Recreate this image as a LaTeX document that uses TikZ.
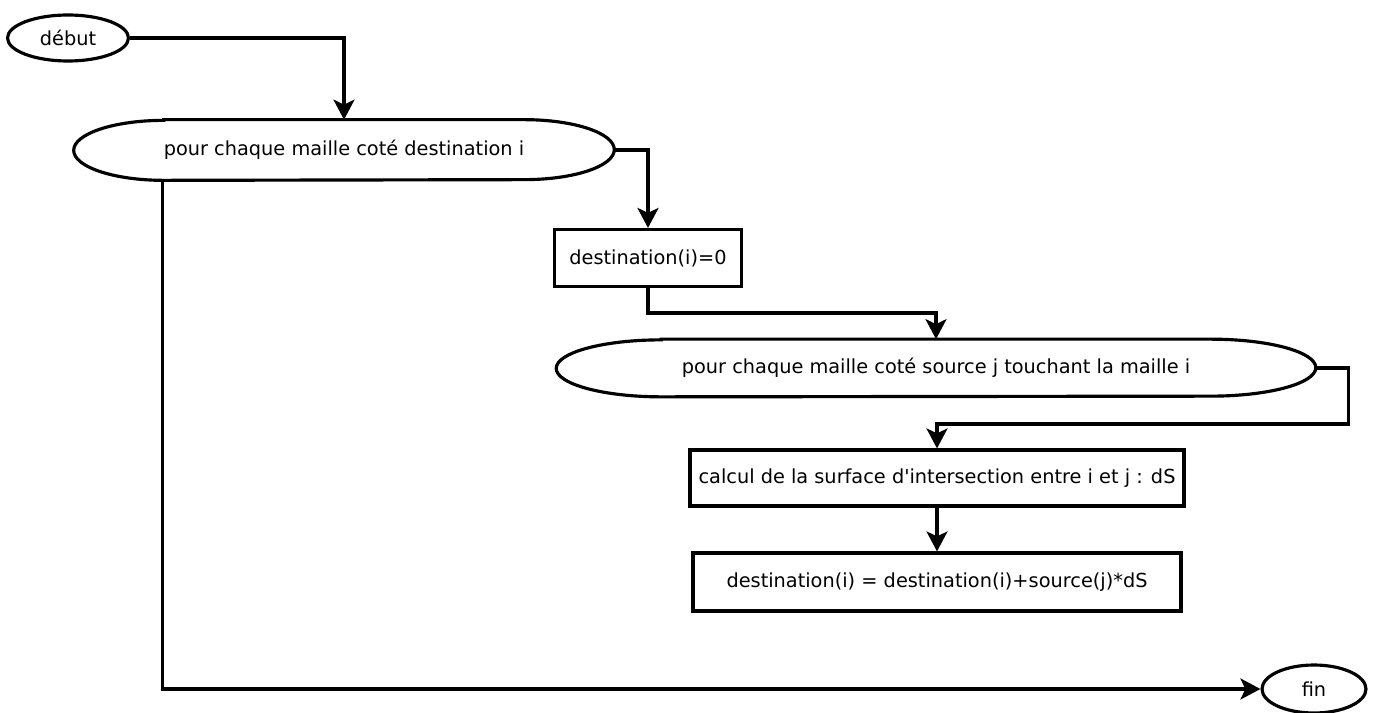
\documentclass[tikz,border=0pt]{standalone}
\usepackage{fontspec}
\setmainfont{DejaVu Sans}
\usetikzlibrary{arrows.meta,shapes.geometric}

\tikzset{
    trait/.style={line width=1.8pt},
    fleche/.style={trait, -{Stealth[length=4mm, width=4.2mm, inset=1mm]}},
    terminal/.style={ellipse, draw, trait, inner sep=0pt},
    bloc/.style={rectangle, draw, trait, minimum height=1.14cm},
    boucle/.style={rectangle, minimum height=1.2cm, inner sep=0pt}
}

\begin{document}
\begin{tikzpicture}[x=0.02cm, y=-0.02cm, font=\fontsize{11}{13}\selectfont]
    \useasboundingbox (0,0) rectangle (1379,713);

    % debut et fin
    \node[terminal, minimum width=2.42cm, minimum height=0.92cm] (debut) at (68,38) {début};
    \node[terminal, minimum width=2.08cm, minimum height=0.96cm] (fin) at (1314,689) {fin};

    % boucles
    \node[boucle, minimum width=10.8cm] (boucleI) at (344,150) {pour chaque maille coté destination i};
    \node[boucle, minimum width=15.18cm, minimum height=1.14cm] (boucleJ) at (936,368) {pour chaque maille coté source j touchant la maille i};

    % contours des boucles
    \foreach \n/\r/\h in {boucleI/1.8cm/0.6cm, boucleJ/2.1cm/0.57cm}
        \draw[trait] ([xshift=\r]\n.north west) -- ([xshift=-\r]\n.north east)
            arc[start angle=90, end angle=-90, x radius=\r, y radius=\h]
            -- ([xshift=\r]\n.south west)
            arc[start angle=270, end angle=90, x radius=\r, y radius=\h] -- cycle;

    % blocs
    \node[bloc, minimum width=3.74cm] (init) at (648,258) {destination(i)=0};
    \node[bloc, minimum width=9.88cm, minimum height=1.12cm] (calcul) at (937,478) {calcul de la surface d\textquotesingle intersection entre i et j : dS};
    \node[bloc, minimum width=9.76cm, minimum height=1.16cm] (cumul) at (937,582) {destination(i) = destination(i)+source(j)*dS};

    % liaisons
    \draw[fleche] (debut.east) -| (boucleI.north);
    \draw[fleche] (boucleI.east) -| (init.north);
    \draw[fleche] (init.south) -- ++(0,25) -| (boucleJ.north);
    \draw[fleche] (boucleJ.east) -- ++(33,0) -- ++(0,56) -| (calcul.north);
    \draw[fleche] (calcul.south) -- (cumul.north);
    \draw[fleche] ([xshift=1.78cm]boucleI.south west) |- (fin.west);
\end{tikzpicture}
\end{document}
